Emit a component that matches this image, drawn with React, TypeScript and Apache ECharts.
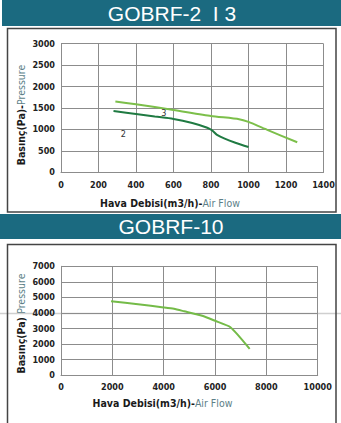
import React, { useEffect, useRef } from "react";
import * as echarts from "echarts";

const titles = ["GOBRF-2  I 3", "GOBRF-10"];

// Top chart (GOBRF-2 / 3)
const topXTicks = { min: 0, max: 1400, interval: 200 };
const topYTicks = { min: 0, max: 3000, interval: 500 };
const series2: [number, number][] = [
  [280, 1430], [400, 1360], [500, 1300], [600, 1245], [700, 1150],
  [780, 1040], [805, 980], [830, 880], [870, 790], [930, 690], [1000, 590],
];
const series3: [number, number][] = [
  [290, 1650], [400, 1585], [600, 1455], [800, 1315], [950, 1240],
  [1000, 1175], [1100, 990], [1260, 700],
];
const label2 = { name: "2", coord: [333, 887] };
const label3 = { name: "3", coord: [548, 1384] };

// Bottom chart (GOBRF-10)
const botXTicks = { min: 0, max: 10000, interval: 2000 };
const botYTicks = { min: 0, max: 7000, interval: 1000 };
const series10: [number, number][] = [
  [1950, 4750], [3000, 4560], [4000, 4360], [4400, 4270], [4800, 4110],
  [5500, 3820], [6000, 3500], [6600, 3090], [7350, 1700],
];

const yNames = [
  ["Basınç(Pa)-", "Pressure"],
  ["Basınç(Pa) ", "Pressure"],
];
const xName = ["Hava Debisi(m3/h)-", "Air Flow"];

const TEAL = "#1b6a80";
const LABEL_FONT = "'Liberation Sans Narrow', 'DejaVu Sans Condensed', sans-serif";
const GRID_COLOR = "#8c8c8c";

export default function App() {
  const ref = useRef<HTMLDivElement>(null);
  useEffect(() => {
    if (!ref.current) return;
    const chart = echarts.init(ref.current, null, { renderer: "svg" });

    const axisLabel = {
      fontFamily: LABEL_FONT,
      fontWeight: "bold" as const,
      fontSize: 9,
      color: "#222",
      formatter: (v: number) => String(v),
    };
    const mkX = (gi: number, t: any, margin: number) => ({
      type: "value",
      gridIndex: gi,
      min: t.min,
      max: t.max,
      interval: t.interval,
      axisLine: { show: true, lineStyle: { color: GRID_COLOR, width: 1 } },
      axisTick: { show: false },
      splitLine: { show: true, lineStyle: { color: GRID_COLOR, width: 1 } },
      axisLabel: { ...axisLabel, margin },
    });
    const mkY = (gi: number, t: any) => ({
      type: "value",
      gridIndex: gi,
      min: t.min,
      max: t.max,
      interval: t.interval,
      axisLine: { show: true, lineStyle: { color: GRID_COLOR, width: 1 } },
      axisTick: { show: false },
      splitLine: { show: true, lineStyle: { color: GRID_COLOR, width: 1 } },
      axisLabel: { ...axisLabel, margin: 6 },
    });

    const nameRich = {
      a: { fontFamily: LABEL_FONT, fontWeight: "bold", fontSize: 10.5, fill: "#1a1a1a" },
      b: { fontFamily: LABEL_FONT, fontWeight: "normal", fontSize: 10.5, fill: "#5d7f88" },
    };

    const textLabel = (lbl: { name: string; coord: number[] }) => ({
      name: lbl.name,
      coord: lbl.coord,
      symbol: "circle",
      symbolSize: 0,
      label: {
        show: true,
        formatter: lbl.name,
        position: "inside",
        fontFamily: LABEL_FONT,
        fontSize: 9,
        color: "#333",
      },
    });

    const option: any = {
      animation: false,
      backgroundColor: "#ffffff",
      grid: [
        { left: 61, right: 17.5, top: 43.7, bottom: 250.7 },
        { left: 61, right: 23.3, top: 266.3, bottom: 47.7 },
      ],
      xAxis: [mkX(0, topXTicks, 8), mkX(1, botXTicks, 7)],
      yAxis: [mkY(0, topYTicks), mkY(1, botYTicks)],
      series: [
        {
          type: "line",
          name: "2",
          xAxisIndex: 0,
          yAxisIndex: 0,
          data: series2,
          smooth: 0.3,
          showSymbol: false,
          lineStyle: { color: "#1f7a42", width: 2 },
          markPoint: { silent: true, data: [textLabel(label2)] },
        },
        {
          type: "line",
          name: "3",
          xAxisIndex: 0,
          yAxisIndex: 0,
          data: series3,
          smooth: 0.2,
          showSymbol: false,
          lineStyle: { color: "#7cbf4a", width: 2 },
          markPoint: { silent: true, data: [textLabel(label3)] },
        },
        {
          type: "line",
          name: "10",
          xAxisIndex: 1,
          yAxisIndex: 1,
          data: series10,
          smooth: 0.2,
          showSymbol: false,
          lineStyle: { color: "#74bb48", width: 2 },
        },
      ],
      graphic: [
        { type: "rect", shape: { x: 2, y: 0, width: 339, height: 26 }, style: { fill: TEAL }, z: 0 },
        { type: "rect", shape: { x: 0, y: 214, width: 341, height: 25 }, style: { fill: TEAL }, z: 0 },
        {
          type: "text", x: 172, y: 13,
          style: { text: titles[0], fill: "#ffffff", font: "21px 'Liberation Sans', Arial, sans-serif", textAlign: "center", textVerticalAlign: "middle" },
        },
        {
          type: "text", x: 171, y: 226.5,
          style: { text: titles[1], fill: "#ffffff", font: "21px 'Liberation Sans', Arial, sans-serif", textAlign: "center", textVerticalAlign: "middle" },
        },
        { type: "rect", shape: { x: 7.5, y: 28.5, width: 328.5, height: 183.5 }, style: { fill: "none", stroke: "#444", lineWidth: 1.5 }, z: 0 },
        { type: "rect", shape: { x: 7.5, y: 244.5, width: 328.5, height: 190 }, style: { fill: "none", stroke: "#444", lineWidth: 1.5 }, z: 0 },
        { type: "line", shape: { x1: 0, y1: 313.5, x2: 341, y2: 313.5 }, style: { stroke: "#cfcfcf", lineWidth: 1.5 }, z: -1 },
        {
          type: "text", x: 20.5, y: 115, rotation: Math.PI / 2,
          style: { text: `{a|${yNames[0][0]}}{b|${yNames[0][1]}}`, rich: nameRich, textAlign: "center", textVerticalAlign: "middle" },
        },
        {
          type: "text", x: 20.5, y: 323.5, rotation: Math.PI / 2,
          style: { text: `{a|${yNames[1][0]}}{b|${yNames[1][1]}}`, rich: nameRich, textAlign: "center", textVerticalAlign: "middle" },
        },
        {
          type: "text", x: 170, y: 202.5,
          style: { text: `{a|${xName[0]}}{b|${xName[1]}}`, rich: nameRich, textAlign: "center", textVerticalAlign: "middle" },
        },
        {
          type: "text", x: 162.5, y: 403,
          style: { text: `{a|${xName[0]}}{b|${xName[1]}}`, rich: nameRich, textAlign: "center", textVerticalAlign: "middle" },
        },
      ],
    };
    chart.setOption(option);
    return () => chart.dispose();
  }, []);
  return (
    <div
      ref={ref}
      style={{ position: "fixed", left: 0, top: 0, width: 341, height: 423, background: "#fff" }}
    />
  );
}
